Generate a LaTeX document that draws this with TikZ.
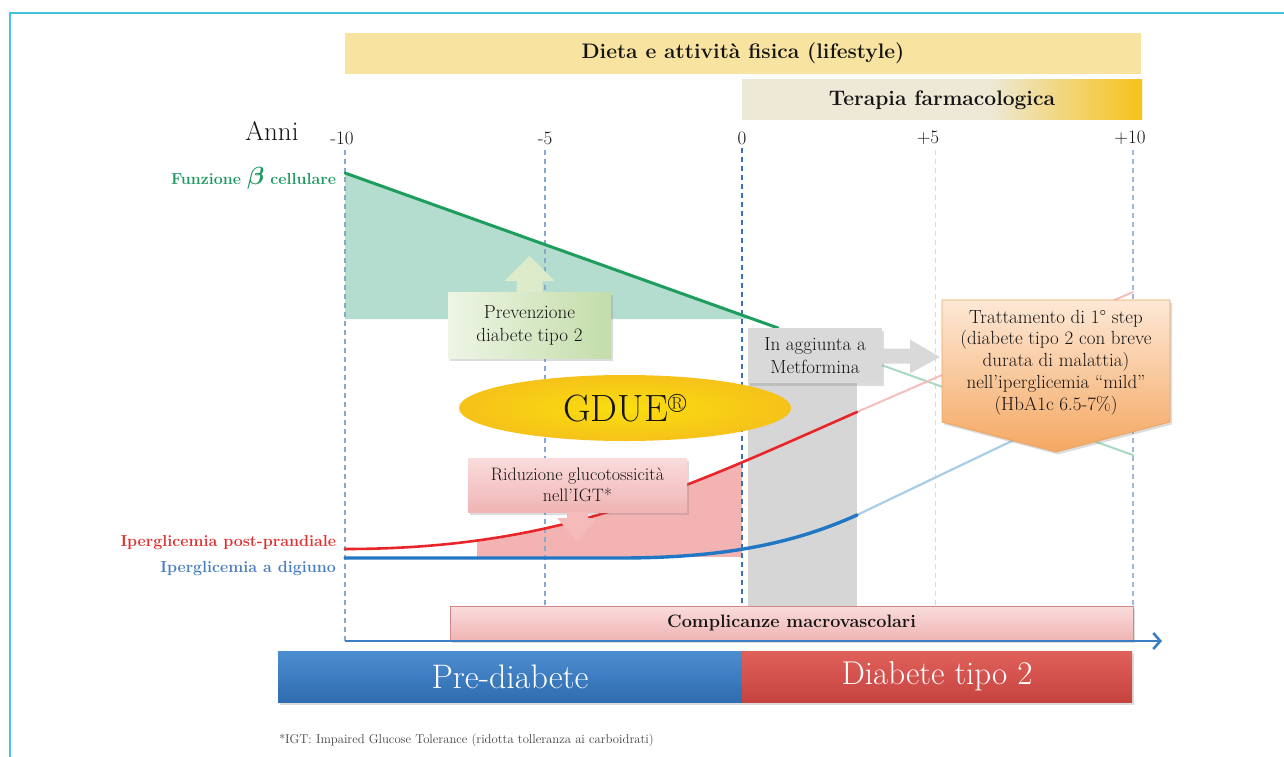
\documentclass[tikz,border=0pt]{standalone}
\usepackage{fontspec}
\usetikzlibrary{calc,shapes.geometric,shadows,arrows.meta}
\definecolor{lifeyellow}{HTML}{F8E4A0}
\definecolor{terabeige}{HTML}{EEE8D6}
\definecolor{teragold}{HTML}{F6C21A}
\definecolor{gfill}{HTML}{B4DDCF}
\definecolor{gline}{HTML}{1E9E5C}
\definecolor{rline}{HTML}{E8262A}
\definecolor{bline}{HTML}{2277C4}
\definecolor{fadeR}{HTML}{F6BDBD}
\definecolor{fadeG}{HTML}{A9D9C2}
\definecolor{fadeB}{HTML}{AACDE6}
\definecolor{pinkfill}{HTML}{F4B3B3}
\definecolor{grayband}{HTML}{D6D6D6}
\definecolor{orTop}{HTML}{FDE8D6}
\definecolor{orBot}{HTML}{F5A862}
\definecolor{orBorder}{HTML}{E9A464}
\definecolor{pvL}{HTML}{EEF5E4}
\definecolor{pvR}{HTML}{C3DDAA}
\definecolor{pvArrow}{HTML}{DDEBCB}
\definecolor{rdTop}{HTML}{FADCDC}
\definecolor{rdBot}{HTML}{F0B4B4}
\definecolor{cpBorder}{HTML}{D08888}
\definecolor{preTop}{HTML}{4C8DD0}
\definecolor{preBot}{HTML}{2F6CB0}
\definecolor{diTop}{HTML}{E0605A}
\definecolor{diBot}{HTML}{C64440}
\definecolor{framec}{HTML}{45C3E0}
\definecolor{axisc}{HTML}{3D7DC2}
\definecolor{dashc}{HTML}{86A9CF}
\definecolor{dashz}{HTML}{3A72B8}
\definecolor{dashl}{HTML}{D8D8E2}
\definecolor{labG}{HTML}{1E9A60}
\definecolor{labR}{HTML}{E03030}
\definecolor{labB}{HTML}{4A7FBF}
\definecolor{aggc}{HTML}{D9D9D9}
\definecolor{txt}{HTML}{141414}
\pgfdeclarehorizontalshading{terashade}{100bp}{color(0bp)=(terabeige); color(56bp)=(terabeige); color(75bp)=(teragold); color(100bp)=(teragold)}
\newcommand\myfs[2]{\fontsize{#1}{#2}\selectfont}
\begin{document}
\begin{tikzpicture}[x=1pt,y=-1pt,
  every node/.style={inner sep=0pt,outer sep=0pt,text=txt},
  boxshadow/.style={drop shadow={opacity=0.28,shadow xshift=2pt,shadow yshift=-2.5pt}},
  vdash/.style={dashc,line width=1.2pt,dash pattern=on 5pt off 4pt},
  tick/.style={font=\myfs{19}{21}},
  curve/.style={line width=#1,line cap=round},
  sidelabel/.style={anchor=east,font=\bfseries\myfs{16}{19}}
]
\useasboundingbox (0,0) rectangle (1284,757);
% frame
\draw[framec,line width=2pt] (10,757) -- (10,13) -- (1284,13);

% top bars
\node[fill=lifeyellow,minimum width=796pt,minimum height=41pt,font=\bfseries\myfs{21}{24}] (life) at (743,53.5) {Dieta e attività fisica (lifestyle)};
\node[shading=terashade,minimum width=400pt,minimum height=40pt,font=\bfseries\myfs{21}{24}] (tera) at (942,100) {Terapia farmacologica};

% axis labels
\node[font=\myfs{27}{29}] (anni) at (272,131) {Anni};
\node[tick] (tm10) at (342,138) {-10};
\node[tick] (tm5) at (545,138) {-5};
\node[tick] (t0) at (742,138) {0};
\node[tick] (tp5) at (928,138) {+5};
\node[tick] (tp10) at (1130,138) {+10};

% curve coordinates
\coordinate (g0) at (345,173);
\coordinate (g1) at (778,328);
\coordinate (r0) at (345,549);
\coordinate (r1) at (857,412);
\coordinate (r2) at (1133,292);
\coordinate (b0) at (345,558);
\coordinate (b1) at (857,515);
\coordinate (b2) at (1133,383);

% green fill
\fill[gfill] (g0) -- ($(g0)!0.942!(g1)$) -- (345,319) -- cycle;
% pink fill
\begin{scope}
\clip (477,0) rectangle (742,556);
\fill[pinkfill] (r0) .. controls (560,549) and (680,490) .. (r1) -- (857,560) -- (345,560) -- cycle;
\end{scope}
% gray band
\fill[grayband] (748,328) rectangle (857,606);

% dashed verticals
\draw[vdash] (345,150) -- (345,641);
\draw[vdash] (545,150) -- (545,641);
\draw[dashz,line width=1.8pt,dash pattern=on 5pt off 4pt] (742,148) -- (742,641);
\draw[dashl,line width=1pt,dash pattern=on 5pt off 4pt] (935,150) -- (935,606);
\draw[dashc!80,line width=1.1pt,dash pattern=on 5pt off 4pt] (1133,150) -- (1133,641);

% faint continuations
\draw[fadeG,curve=2pt] ($(g0)!1.2402!(g1)$) -- ($(g0)!1.82!(g1)$);
\draw[fadeR,curve=2pt] (r1) -- (r2);
\draw[fadeB,curve=2.2pt] (b1) -- (b2);

% main curves
\draw[gline,curve=3pt] (g0) -- (g1);
\draw[rline,curve=2.6pt] (r0) .. controls (560,549) and (680,490) .. (r1);
\draw[bline,curve=3.4pt] (b0) -- (620,558) .. controls (725,558) and (795,543) .. (b1);

% side labels
\node[sidelabel,text=labG] (beta) at (336,178) {Funzione {\myfs{30}{30}\boldmath$\beta$} cellulare};
\node[sidelabel,text=labR] (ipp) at (336,543) {Iperglicemia post-prandiale};
\node[sidelabel,text=labB] (ipd) at (336,569) {Iperglicemia a digiuno};

% Prevenzione box and arrow
\node[left color=pvL,right color=pvR,minimum width=163pt,minimum height=66pt,boxshadow,align=center,font=\myfs{19}{23}] (prev) at (529.5,325) {Prevenzione\\diabete tipo 2};
\fill[pvArrow] ($(prev.north)+(-13,0)$) -- ($(prev.north)+(-13,-11)$) -- ($(prev.north)+(-25,-11)$) -- ($(prev.north)+(0,-36)$) -- ($(prev.north)+(25,-11)$) -- ($(prev.north)+(13,-11)$) -- ($(prev.north)+(13,0)$) -- cycle;

% GDUE ellipse
\node[ellipse,inner color=yellow!45!teragold,outer color=teragold,minimum width=332pt,minimum height=66pt,font=\myfs{38}{40}] (gdue) at (625,408) {GDUE\textsuperscript{\textregistered}};

% Riduzione box and arrow
\node[top color=rdTop,bottom color=rdBot,minimum width=219pt,minimum height=54pt,boxshadow,align=center,font=\myfs{18}{21}] (rid) at (577.5,485) {Riduzione glucotossicità\\nell’IGT*};
\fill[pinkfill!90!white] ($(rid.south)+(-10.5,0)$) -- ($(rid.south)+(-10.5,6)$) -- ($(rid.south)+(-20.5,6)$) -- ($(rid.south)+(-0.5,29)$) -- ($(rid.south)+(19.5,6)$) -- ($(rid.south)+(10.5,6)$) -- ($(rid.south)+(10.5,0)$) -- cycle;

% In aggiunta box and arrow
\node[fill=aggc,minimum width=134pt,minimum height=55pt,boxshadow,align=center,font=\myfs{19}{23}] (agg) at (815,355.5) {In aggiunta a\\Metformina};
\fill[aggc] ($(agg.east)+(0,-7)$) -- ($(agg.east)+(28,-7)$) -- ($(agg.east)+(28,-16)$) -- ($(agg.east)+(58,1.5)$) -- ($(agg.east)+(28,18)$) -- ($(agg.east)+(28,8)$) -- ($(agg.east)+(0,8)$) -- cycle;

% Trattamento callout
\path[top color=orTop,bottom color=orBot,draw=orBorder,line width=0.8pt,boxshadow] (942,300) -- (1170,300) -- (1170,422) -- (1056,452) -- (942,422) -- cycle;
\node[align=center,font=\myfs{19}{21.8}] (tratt) at (1056,362.5) {Trattamento di 1\textdegree{} step\\(diabete tipo 2 con breve\\durata di malattia)\\nell’iperglicemia “mild”\\(HbA1c 6.5-7\%)};

% complicanze bar
\node[top color=rdTop,bottom color=rdBot,draw=cpBorder,line width=0.7pt,minimum width=683pt,minimum height=34pt,boxshadow,font=\bfseries\myfs{18}{20}] (compl) at (791.5,623) {Complicanze macrovascolari};

% axis
\coordinate (ax0) at (345,641);
\coordinate (ax1) at (1162,641);
\draw[axisc,line width=2.6pt,-{Straight Barb[length=7pt,width=16pt,line width=2.6pt]}] (ax0) -- (ax1);

% phase bars
\node[top color=preTop,bottom color=preBot,minimum width=464pt,minimum height=51pt,boxshadow,text=white,font=\myfs{34}{36}] (pre) at (510,676.5) {Pre-diabete};
\node[top color=diTop,bottom color=diBot,minimum width=390pt,minimum height=51pt,boxshadow,text=white,font=\myfs{33}{35}] (dia) at (937,676.5) {Diabete tipo 2};

% footnote
\node[anchor=west,font=\myfs{12.7}{14},text=black!75] (foot) at (279,740) {*IGT: Impaired Glucose Tolerance (ridotta tolleranza ai carboidrati)};
\end{tikzpicture}
\end{document}
